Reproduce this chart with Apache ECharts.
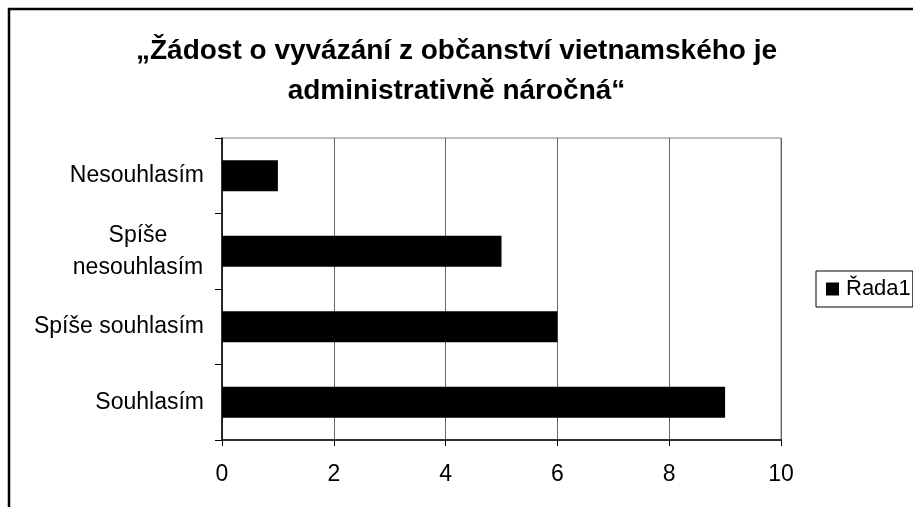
<!DOCTYPE html>
<html>
<head>
<meta charset="utf-8">
<script src="https://cdn.jsdelivr.net/npm/echarts@6/dist/echarts.min.js"></script>
<style>
  html, body { margin: 0; padding: 0; background: #fff; }
  #chart { width: 913px; height: 507px; }
</style>
</head>
<body>
<div id="chart"></div>
<script>
// bottom to top, as drawn
const categories = ['Souhlasím', 'Spíše souhlasím', 'Spíše nesouhlasím', 'Nesouhlasím']
const values = [9, 6, 5, 1]
const seriesName = 'Řada1'
const titleText = '„Žádost o vyvázání z občanství vietnamského je\nadministrativně náročná“'

const font = 'Liberation Sans, Arial, sans-serif'
const chart = echarts.init(document.getElementById('chart'))

chart.setOption({
  animation: false,
  backgroundColor: '#fff',
  title: {
    text: titleText,
    left: 'center',
    top: 26,
    textStyle: {
      fontFamily: font,
      fontSize: 28,
      fontWeight: 'bold',
      color: '#000',
      lineHeight: 40
    }
  },
  legend: {
    data: [seriesName],
    left: 816,
    top: 271,
    padding: [7, 2, 7, 10],
    borderColor: '#000',
    borderWidth: 1,
    icon: 'rect',
    itemWidth: 13,
    itemHeight: 13,
    itemGap: 8,
    textStyle: { fontFamily: font, fontSize: 22, color: '#000', padding: [0, 0, 0, 2] }
  },
  grid: {
    left: 222,
    right: 132,
    top: 138,
    bottom: 67,
    show: true,
    borderColor: '#808080',
    borderWidth: 1
  },
  xAxis: {
    type: 'value',
    min: 0,
    max: 10,
    interval: 2,
    axisLine: { show: true, lineStyle: { color: '#000', width: 1.5 } },
    axisTick: { show: true, length: 6, lineStyle: { color: '#000' } },
    axisLabel: { fontFamily: font, fontSize: 23, color: '#000', margin: 23 },
    splitLine: { show: true, lineStyle: { color: '#666', width: 1 } }
  },
  yAxis: {
    type: 'category',
    data: categories,
    axisLine: { show: true, lineStyle: { color: '#000', width: 1.5 } },
    axisTick: { show: true, length: 7, lineStyle: { color: '#000' } },
    axisLabel: {
      fontFamily: font,
      fontSize: 23,
      color: '#000',
      margin: 18,
      formatter: function (v) {
        if (v === 'Spíše nesouhlasím') return '{c|Spíše}\n{c|nesouhlasím}'
        return v
      },
      rich: {
        c: { width: 132, align: 'center', fontFamily: font, fontSize: 23, color: '#000', lineHeight: 32 }
      }
    }
  },
  series: [{
    name: seriesName,
    type: 'bar',
    data: values,
    barWidth: 31,
    itemStyle: { color: '#000' }
  }],
  graphic: [{
    type: 'rect',
    shape: { x: 9, y: 9, width: 1000, height: 600 },
    style: { fill: 'none', stroke: '#000', lineWidth: 2.5 },
    silent: true
  }]
})
</script>
</body>
</html>
